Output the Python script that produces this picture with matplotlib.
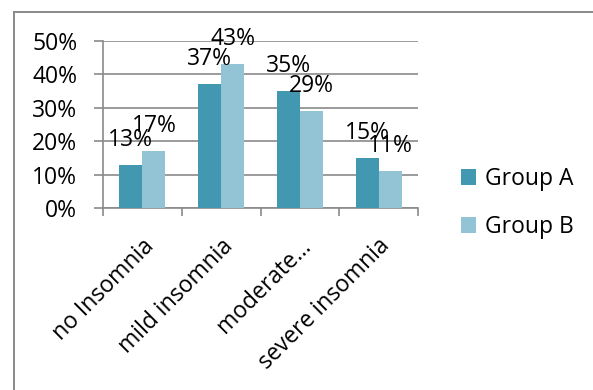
import matplotlib
matplotlib.use("Agg")
import matplotlib.pyplot as plt
import matplotlib.transforms as mtransforms
from matplotlib.lines import Line2D
import numpy as np

categories = ["no Insomnia", "mild insomnia", "moderate…", "severe insomnia"]
group_a = [13, 37, 35, 15]
group_b = [17, 43, 29, 11]
series_names = ["Group A", "Group B"]
yticks = [0, 10, 20, 30, 40, 50]

plt.rcParams['font.family'] = ['Open Sans', 'DejaVu Sans']
FS = 16.5
col_a = "#4298b0"
col_b = "#93c4d6"
gray = "#8a8a8a"

W, H = 593, 390
fig = plt.figure(figsize=(W / 100, H / 100), dpi=100)
fig.patch.set_facecolor("white")

# outer frame (left and top edges visible)
fig.add_artist(Line2D([14 / W, 14 / W], [0, 1 - 12 / H], transform=fig.transFigure, color=gray, lw=1.4))
fig.add_artist(Line2D([14 / W, 1.0], [1 - 12 / H, 1 - 12 / H], transform=fig.transFigure, color=gray, lw=1.4))

ax = fig.add_axes([103 / W, 1 - 208 / H, (418 - 103) / W, (208 - 40.7) / H])

x = np.arange(len(categories))
bw = 0.292
bars_a = ax.bar(x - bw / 2, group_a, bw, color=col_a, label=series_names[0], zorder=3)
bars_b = ax.bar(x + bw / 2, group_b, bw, color=col_b, label=series_names[1], zorder=3)

for bars, vals in ((bars_a, group_a), (bars_b, group_b)):
    for b, v in zip(bars, vals):
        ax.annotate(f"{v}%", (b.get_x() + b.get_width() / 2, v), xytext=(0, 18),
                    textcoords="offset points", ha="center", va="center",
                    fontsize=FS, color="black", zorder=5)

ax.set_xlim(-0.5, len(categories) - 0.5)
ax.set_ylim(0, 50)
ax.set_yticks(yticks)
ax.set_yticklabels([f"{t}%" for t in yticks], fontsize=FS)
ax.yaxis.grid(True, color=gray, lw=1.2, zorder=0)
ax.set_axisbelow(True)

ax.set_xticks(x)
ax.set_xticklabels(categories, fontsize=FS, rotation=45, ha="right", va="center",
                   rotation_mode="anchor")
ax.set_xticks(np.arange(-0.5, len(categories), 1.0), minor=True)
ax.tick_params(axis="x", which="major", length=0, pad=25)
ax.tick_params(axis="x", which="minor", length=6, width=1.2, color=gray)
ax.tick_params(axis="y", length=6.5, width=1.2, color=gray, pad=12)

offset = mtransforms.ScaledTranslation(8 / 100, 0, fig.dpi_scale_trans)
for lbl in ax.get_xticklabels():
    lbl.set_transform(lbl.get_transform() + offset)

for s in ("top", "right"):
    ax.spines[s].set_visible(False)
for s in ("left", "bottom"):
    ax.spines[s].set_color(gray)
    ax.spines[s].set_linewidth(1.2)

leg = ax.legend(loc="center left", bbox_to_anchor=(461 / W, 1 - 203 / H),
                bbox_transform=fig.transFigure, frameon=False, fontsize=FS,
                handlelength=0.65, handleheight=0.65, handletextpad=0.4,
                labelspacing=1.05, borderpad=0, borderaxespad=0)

fig.savefig("out.png", dpi=100, facecolor="white")
